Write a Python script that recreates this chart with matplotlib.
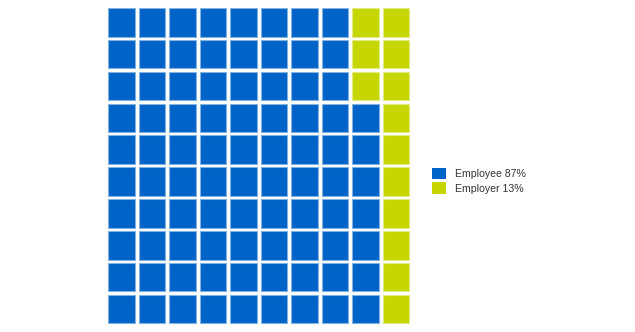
import matplotlib
matplotlib.use("Agg")
import matplotlib.pyplot as plt
from matplotlib.patches import Rectangle, Patch
import matplotlib.colors as mcolors
import numpy as np

categories = ["Employee", "Employer"]
values = [87, 13]
colors = ["#0063C8", "#C5D600"]
n_rows = 10
n_cols = 10

plt.rcParams['font.family'] = ['Liberation Sans', 'DejaVu Sans']

W, H = 635, 332
fig = plt.figure(figsize=(W / 100, H / 100), dpi=100)
fig.patch.set_facecolor("white")

# grid area in pixels
x0, pitch_x = 108.0, 30.52
y0, pitch_y = 8.0, 31.86
ax = fig.add_axes([x0 / W, (H - (y0 + n_rows * pitch_y)) / H,
                   n_cols * pitch_x / W, n_rows * pitch_y / H])
ax.set_xlim(0, n_cols)
ax.set_ylim(n_rows, 0)
ax.axis("off")

cell_w = 26.7 / pitch_x
cell_h = 28.6 / pitch_y

def edge_of(c):
    rgb = np.array(mcolors.to_rgb(c))
    return tuple(rgb * 0.5 + 0.5)

# assign each cell, column by column, from bottom to top
assign = []
for ci, v in enumerate(values):
    assign += [ci] * v
k = 0
for col in range(n_cols):
    for r in range(n_rows):
        row = n_rows - 1 - r
        ci = assign[k]
        k += 1
        ax.add_patch(Rectangle((col, row), cell_w, cell_h,
                               facecolor=colors[ci], edgecolor=edge_of(colors[ci]),
                               linewidth=0.8))

handles = [Patch(facecolor=c, edgecolor="none") for c in colors]
labels = [f"{n} {v}%" for n, v in zip(categories, values)]
fs = 7.6
leg = fig.legend(handles, labels, loc="center left",
                 bbox_to_anchor=(431.7 / W, (H - 180.8) / H),
                 frameon=False, fontsize=fs, handlelength=1.31, handleheight=1.31,
                 handletextpad=0.92, labelspacing=0.3, borderpad=0, borderaxespad=0)
for t in leg.get_texts():
    t.set_color("#333333")

fig.savefig("out.png", dpi=100, facecolor="white")
